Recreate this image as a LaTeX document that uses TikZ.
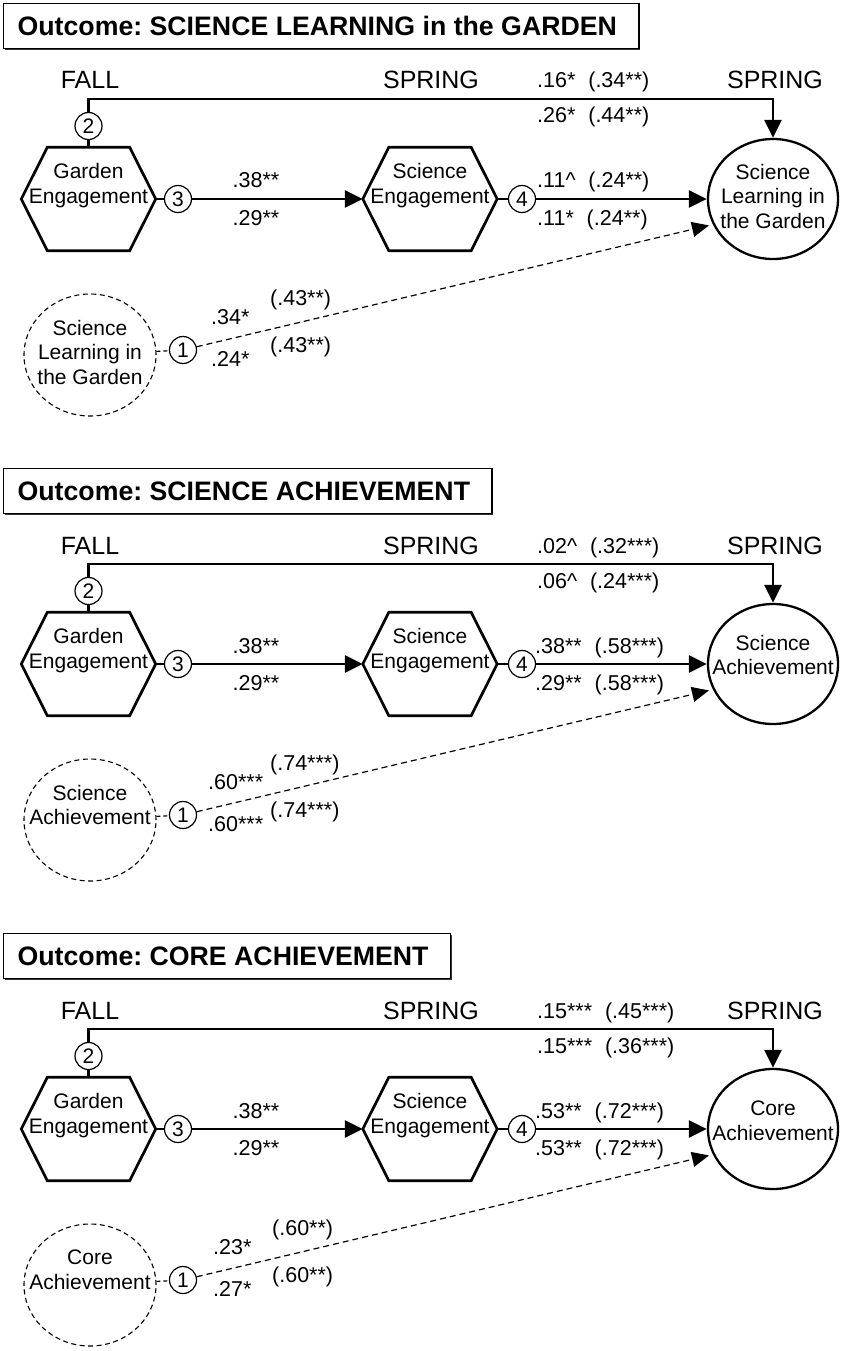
\documentclass[tikz,border=0pt]{standalone}
\usepackage{fontspec}
\setmainfont{Liberation Sans}
\usetikzlibrary{arrows.meta,shapes.geometric,shadows}
\frenchspacing

\tikzset{
  titlebox/.style={draw, line width=1.3pt, fill=white, anchor=north west,
    inner xsep=14pt, inner ysep=0pt, minimum height=45pt,
    font=\fontsize{26.7}{30}\selectfont\bfseries,
    drop shadow={shadow xshift=1.2pt, shadow yshift=-1.2pt, fill=black!80, opacity=1}},
  season/.style={anchor=base, inner sep=0pt, font=\fontsize{25}{30}\selectfont},
  coef/.style={anchor=base west, inner sep=0pt, font=\fontsize{21.5}{26}\selectfont},
  coefc/.style={coef, anchor=base},
  hexa/.style={rectangle, minimum width=134pt, minimum height=103pt, inner sep=0pt},
  hexline/.style={line width=2.7pt, line join=miter},
  shapetext/.style={align=center, inner sep=0pt, font=\fontsize{21}{24.5}\selectfont},
  outcome/.style={ellipse, draw, line width=2.3pt, minimum width=130pt,
    minimum height=120pt, inner sep=0pt},
  prior/.style={ellipse, draw, line width=1.1pt, dash pattern=on 5pt off 3.5pt,
    minimum width=132pt, minimum height=122pt, inner sep=0pt},
  num/.style={circle, draw, line width=1.2pt, minimum size=27pt, inner sep=0pt,
    font=\fontsize{21}{24}\selectfont},
  stub/.style={line width=2.7pt},
  solidarrow/.style={line width=2.8pt, -{Triangle[length=18pt,width=17pt]}},
  dashstub/.style={line width=1.2pt, dash pattern=on 4pt off 3pt},
  dasharrow/.style={line width=1.2pt, dash pattern=on 6pt off 4pt,
    -{Triangle[length=17pt,width=15pt]}, shorten >=4pt},
}

% gap between an estimate and its bracketed estimate
\newcommand{\coefgap}{\hspace{0.6em}}

% common skeleton of one panel: hexagons, connectors and numbered circles
\newcommand{\drawpanelpaths}[1]{%
  \foreach \h in {garden#1,scieng#1}
    \draw[hexline] (\h.west) -- ([xshift=26pt]\h.north west)
      -- ([xshift=-26pt]\h.north east) -- (\h.east)
      -- ([xshift=-26pt]\h.south east) -- ([xshift=26pt]\h.south west) -- cycle;
  \draw[stub] (two#1) -- (garden#1.north);
  \draw[solidarrow] (two#1.north) -- (two#1.north |- top#1) -| (out#1.north);
  \draw[stub] (garden#1.east) -- (three#1);
  \draw[solidarrow] (three#1) -- (scieng#1.west);
  \draw[stub] (scieng#1.east) -- (four#1);
  \draw[solidarrow] (four#1) -- (out#1.west);
  \draw[dashstub] (prior#1) -- (one#1);
  \draw[dasharrow] (one#1) -- (out#1.203);
}

\newcommand{\commonnodes}[1]{%
  \node[season] (fall#1) at (90,89) {FALL};
  \node[season] (springA#1) at (431,89) {SPRING};
  \node[season] (springB#1) at (775,89) {SPRING};
  \node[hexa, label={[shapetext,yshift=13.5pt]center:{Garden\\Engagement}}] (garden#1) at (88.5,199) {};
  \node[hexa, label={[shapetext,yshift=13.5pt]center:{Science\\Engagement}}] (scieng#1) at (430,199) {};
  \node[num] (two#1) at (88.5,126) {2};
  \node[num] (three#1) at (178,199) {3};
  \node[num] (four#1) at (522,199) {4};
  \node[num] (one#1) at (183,350) {1};
  \coordinate (top#1) at (0,99);
  \node[coefc] (b#1) at (256,188) {.38**};
  \node[coefc] (c#1) at (256,225) {.29**};
}

\begin{document}
\begin{tikzpicture}[x=1pt, y=-1pt]
\fill[white] (0,0) rectangle (845,1351);
\useasboundingbox (0,0) rectangle (845,1351);

% ---------- science learning in the garden ----------
\begin{scope}
  \node[titlebox] (title1) at (3,3) {Outcome: SCIENCE LEARNING in the GARDEN\kern8pt};
  \commonnodes{1}
  \node[outcome, label={[shapetext,yshift=3pt]center:{Science\\Learning in\\the Garden}}] (out1) at (773,199) {};
  \node[prior, label={[shapetext,yshift=3pt]center:{Science\\Learning in\\the Garden}}] (prior1) at (90,355) {};
  \drawpanelpaths{1}
  \node[coef] (d1) at (537,88) {.16*\coefgap(.34**)};
  \node[coef] (e1) at (537,123) {.26*\coefgap(.44**)};
  \node[coef] (f1) at (537,188) {.11\textasciicircum\coefgap(.24**)};
  \node[coef] (g1) at (537,225) {.11*\coefgap(.24**)};
  \node[coef] (h1) at (211,324) {.34*};
  \node[coef] (i1) at (270,305) {(.43**)};
  \node[coef] (j1) at (211,366) {.24*};
  \node[coef] (k1) at (270,352) {(.43**)};
\end{scope}

% ---------- science achievement ----------
\begin{scope}[yshift=-465pt]
  \node[titlebox] (title2) at (3,3) {Outcome: SCIENCE ACHIEVEMENT\kern8pt};
  \commonnodes{2}
  \node[outcome, label={[shapetext,yshift=9pt]center:{Science\\Achievement}}] (out2) at (773,199) {};
  \node[prior, label={[shapetext,yshift=15pt]center:{Science\\Achievement}}] (prior2) at (90,355) {};
  \drawpanelpaths{2}
  \node[coef] (d2) at (537,88) {.02\textasciicircum\coefgap(.32***)};
  \node[coef] (e2) at (537,123) {.06\textasciicircum\coefgap(.24***)};
  \node[coef] (f2) at (535,188) {.38**\coefgap(.58***)};
  \node[coef] (g2) at (535,225) {.29**\coefgap(.58***)};
  \node[coef] (h2) at (208,324) {.60***};
  \node[coef] (i2) at (270,305) {(.74***)};
  \node[coef] (j2) at (208,366) {.60***};
  \node[coef] (k2) at (270,352) {(.74***)};
\end{scope}

% ---------- core achievement ----------
\begin{scope}[yshift=-930pt]
  \node[titlebox] (title3) at (3,3) {Outcome: CORE ACHIEVEMENT\kern8pt};
  \commonnodes{3}
  \node[outcome, label={[shapetext,yshift=8pt]center:{Core\\Achievement}}] (out3) at (773,199) {};
  \node[prior, label={[shapetext,yshift=15pt]center:{Core\\Achievement}}] (prior3) at (90,355) {};
  \drawpanelpaths{3}
  \node[coef] (d3) at (537,88) {.15***\coefgap(.45***)};
  \node[coef] (e3) at (537,123) {.15***\coefgap(.36***)};
  \node[coef] (f3) at (535,188) {.53**\coefgap(.72***)};
  \node[coef] (g3) at (535,225) {.53**\coefgap(.72***)};
  \node[coef] (h3) at (213,324) {.23*};
  \node[coef] (i3) at (272,305) {(.60**)};
  \node[coef] (j3) at (213,366) {.27*};
  \node[coef] (k3) at (272,352) {(.60**)};
\end{scope}
\end{tikzpicture}
\end{document}
